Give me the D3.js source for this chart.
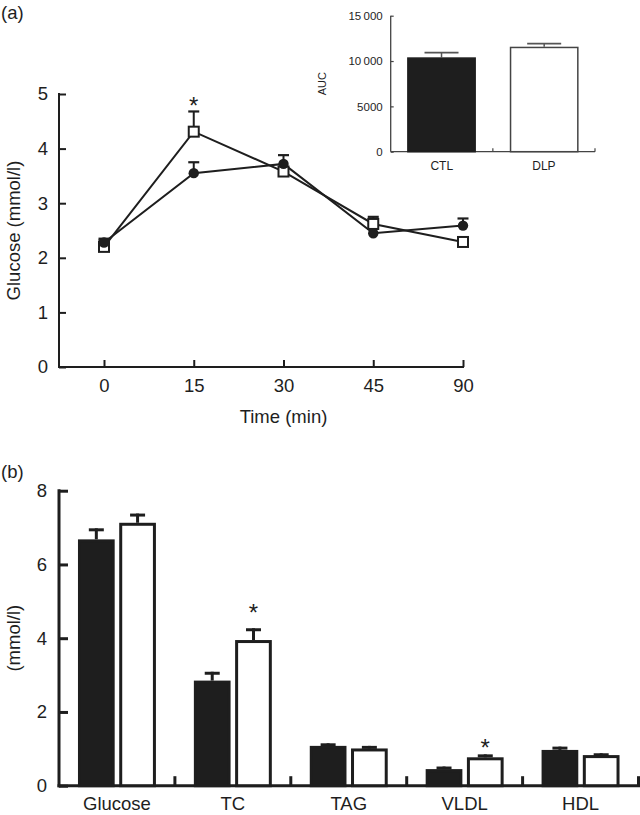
<!DOCTYPE html>
<html><head><meta charset="utf-8">
<script src="https://cdn.jsdelivr.net/npm/d3@7"></script>
<style>
html,body{margin:0;padding:0;background:#fff;}
svg text{font-family:"Liberation Sans",Arial,Helvetica,sans-serif;fill:#1e1e1e;}
</style></head>
<body>
<svg id="c" width="640" height="815"></svg>
<script>
// ---------- Data ----------
// Panel (a): glucose tolerance curve
const timeLabels = ["0", "15", "30", "45", "90"];
const ctlGlucose = [2.28, 3.55, 3.72, 2.45, 2.59];
const ctlGlucoseErr = [0.07, 0.20, 0.16, 0.08, 0.13];
const dlpGlucose = [2.20, 4.31, 3.58, 2.62, 2.29];
const dlpGlucoseErr = [0.12, 0.37, 0.07, 0.13, 0.04];
const glucoseTicks = [0, 1, 2, 3, 4, 5];
const glucoseStarTime = "15";
const glucoseStarValue = 4.89;

// Inset: AUC
const aucGroups = ["CTL", "DLP"];
const aucValues = [10410, 11580];
const aucErr = [510, 330];
const aucTicks = [0, 5000, 10000, 15000];
const aucTickLabels = ["0", "5000", "10\u2009000", "15\u2009000"];

// Panel (b): plasma parameters
const lipidCategories = ["Glucose", "TC", "TAG", "VLDL", "HDL"];
const ctlLipid = [6.68, 2.85, 1.08, 0.45, 0.97];
const ctlLipidErr = [0.30, 0.24, 0.07, 0.07, 0.09];
const dlpLipid = [7.13, 3.95, 1.01, 0.77, 0.83];
const dlpLipidErr = [0.25, 0.32, 0.07, 0.08, 0.05];
const lipidTicks = [0, 2, 4, 6, 8];
const lipidStarCats = ["TC", "VLDL"];
const lipidStarValues = [4.85, 1.19];

// ---------- Drawing ----------
const svg = d3.select("#c");
const ink = "#1e1e1e";
const starSize = 24, starOff = 14;

// Panel labels
svg.append("text").attr("x", 1).attr("y", 19).style("font-size", "18.5px").text("(a)");
svg.append("text").attr("x", 1).attr("y", 478).style("font-size", "18.5px").text("(b)");

// ===== Panel (a) =====
(function(){
  const axX = 59, y0 = 367, y5 = 94;
  const x = d3.scalePoint().domain(timeLabels).range([104, 463]);
  const y = d3.scaleLinear().domain([0, 5]).range([y0, y5]);
  const g = svg.append("g");
  const fs = "18.5px";

  const ya = g.append("g").attr("transform", `translate(${axX},0)`)
    .call(d3.axisLeft(y).tickValues(glucoseTicks).tickFormat(d3.format("d")).tickSize(-7).tickSizeOuter(0).tickPadding(11));
  ya.select(".domain").remove();
  ya.selectAll("line").attr("stroke", ink).attr("stroke-width", 2);
  ya.selectAll("text").style("font-size", fs);
  g.append("line").attr("x1", axX).attr("x2", axX).attr("y1", y5 - 1).attr("y2", y0 + 1)
    .attr("stroke", ink).attr("stroke-width", 2);

  const xa = g.append("g").attr("transform", `translate(0,${y0})`)
    .call(d3.axisBottom(x).tickSize(-7).tickSizeOuter(0).tickPadding(11.5));
  xa.select(".domain").remove();
  xa.selectAll("line").attr("stroke", ink).attr("stroke-width", 2);
  xa.selectAll("text").style("font-size", fs);
  g.append("line").attr("x1", axX - 1).attr("x2", x(timeLabels[timeLabels.length - 1]) + 1)
    .attr("y1", y0).attr("y2", y0).attr("stroke", ink).attr("stroke-width", 2);

  g.append("text").attr("transform", `translate(13,${(y0 + y5) / 2}) rotate(-90)`)
    .attr("text-anchor", "middle").attr("dominant-baseline", "central")
    .style("font-size", fs).text("Glucose (mmol/l)");
  g.append("text").attr("x", x(timeLabels[2])).attr("y", 423).attr("text-anchor", "middle")
    .style("font-size", fs).text("Time (min)");

  const ctl = timeLabels.map((t, i) => ({t, v: ctlGlucose[i], e: ctlGlucoseErr[i]}));
  const dlp = timeLabels.map((t, i) => ({t, v: dlpGlucose[i], e: dlpGlucoseErr[i]}));
  const line = d3.line().x(d => x(d.t)).y(d => y(d.v));

  [ctl, dlp].forEach(s => {
    g.append("path").datum(s).attr("d", line).attr("fill", "none")
      .attr("stroke", ink).attr("stroke-width", 2);
  });
  [ctl, dlp].forEach(s => {
    const eb = g.append("g");
    eb.selectAll(".v").data(s).join("line")
      .attr("x1", d => x(d.t)).attr("x2", d => x(d.t))
      .attr("y1", d => y(d.v)).attr("y2", d => y(d.v + d.e))
      .attr("stroke", ink).attr("stroke-width", 2);
    eb.selectAll(".c").data(s).join("line")
      .attr("x1", d => x(d.t) - 5.5).attr("x2", d => x(d.t) + 5.5)
      .attr("y1", d => y(d.v + d.e)).attr("y2", d => y(d.v + d.e))
      .attr("stroke", ink).attr("stroke-width", 2.2);
  });
  g.selectAll(".sq").data(dlp).join("rect")
    .attr("x", d => x(d.t) - 5).attr("y", d => y(d.v) - 5)
    .attr("width", 10).attr("height", 10)
    .attr("fill", "#fff").attr("stroke", ink).attr("stroke-width", 2);
  g.selectAll(".ci").data(ctl).join("circle")
    .attr("cx", d => x(d.t)).attr("cy", d => y(d.v)).attr("r", 5.2)
    .attr("fill", ink);

  g.append("text").attr("x", x(glucoseStarTime)).attr("y", y(glucoseStarValue) + starOff)
    .attr("text-anchor", "middle").style("font-size", starSize + "px").text("*");
})();

// ===== Inset AUC =====
(function(){
  const axX = 390.7, yb = 151.7, yt = 15.7, xr = 595;
  const x = d3.scaleBand().domain(aucGroups).range([axX, xr]).paddingInner(0.33).paddingOuter(0.16);
  const xs = d3.scaleBand().domain(aucGroups).range([axX, xr]);
  const y = d3.scaleLinear().domain([0, 15000]).range([yb, yt]);
  const g = svg.append("g");
  const col = "#444";
  const fs = "11.5px";

  const ya = g.append("g").attr("transform", `translate(${axX},0)`)
    .call(d3.axisLeft(y).tickValues(aucTicks).tickFormat((d, i) => aucTickLabels[i]).tickSize(-3).tickSizeOuter(0).tickPadding(8));
  ya.select(".domain").remove();
  ya.selectAll("line").attr("stroke", col).attr("stroke-width", 1.2);
  ya.selectAll("text").style("font-size", fs);
  g.append("line").attr("x1", axX).attr("x2", axX).attr("y1", yt).attr("y2", yb)
    .attr("stroke", col).attr("stroke-width", 1.3);
  g.append("line").attr("x1", axX).attr("x2", xr).attr("y1", yb).attr("y2", yb)
    .attr("stroke", col).attr("stroke-width", 1.3);
  g.selectAll(".sep").data(aucGroups).join("line")
    .attr("x1", d => xs(d) + xs.bandwidth()).attr("x2", d => xs(d) + xs.bandwidth())
    .attr("y1", yb).attr("y2", yb - 3.5).attr("stroke", col).attr("stroke-width", 1.2);

  g.selectAll(".lab").data(aucGroups).join("text")
    .attr("x", d => xs(d) + xs.bandwidth() / 2).attr("y", 169.5)
    .attr("text-anchor", "middle").style("font-size", "12px").text(d => d);
  g.append("text").attr("transform", `translate(322,${(yt + yb) / 2}) rotate(-90)`)
    .attr("text-anchor", "middle").attr("dominant-baseline", "central")
    .style("font-size", "11px").text("AUC");

  const data = aucGroups.map((k, i) => ({k, v: aucValues[i], e: aucErr[i], i}));
  g.selectAll(".ev").data(data).join("line")
    .attr("x1", d => x(d.k) + x.bandwidth() / 2).attr("x2", d => x(d.k) + x.bandwidth() / 2)
    .attr("y1", d => y(d.v)).attr("y2", d => y(d.v + d.e)).attr("stroke", "#555").attr("stroke-width", 1.5);
  g.selectAll(".ec").data(data).join("line")
    .attr("x1", d => x(d.k) + x.bandwidth() / 2 - 17).attr("x2", d => x(d.k) + x.bandwidth() / 2 + 17)
    .attr("y1", d => y(d.v + d.e)).attr("y2", d => y(d.v + d.e)).attr("stroke", "#555").attr("stroke-width", 1.8);
  g.selectAll(".bar").data(data).join("rect")
    .attr("x", d => x(d.k) + 0.75).attr("y", d => y(d.v) + 0.75)
    .attr("width", x.bandwidth() - 1.5).attr("height", d => yb - y(d.v) - 0.75)
    .attr("fill", d => d.i === 0 ? "#1e1e1e" : "#fff")
    .attr("stroke", d => d.i === 0 ? "#1e1e1e" : col).attr("stroke-width", 1.5);
})();

// ===== Panel (b) =====
(function(){
  const axX = 59, yb = 785.7, yt = 490.7, xr = 638.5;
  const x = d3.scaleBand().domain(lipidCategories).range([axX, xr]);
  const sub = d3.scaleBand().domain(["CTL", "DLP"]).range([0, x.bandwidth()]).paddingInner(0.11).paddingOuter(0.46);
  const y = d3.scaleLinear().domain([0, 8]).range([yb, yt]);
  const g = svg.append("g");
  const fs = "18.5px";
  const sw = 3;

  const ya = g.append("g").attr("transform", `translate(${axX},0)`)
    .call(d3.axisLeft(y).tickValues(lipidTicks).tickFormat(d3.format("d")).tickSize(-9).tickSizeOuter(0).tickPadding(12));
  ya.select(".domain").remove();
  ya.selectAll("line").attr("stroke", ink).attr("stroke-width", sw);
  ya.selectAll("text").style("font-size", fs);
  g.append("line").attr("x1", axX).attr("x2", axX).attr("y1", yt - 1.5).attr("y2", yb + 1.5)
    .attr("stroke", ink).attr("stroke-width", sw);

  const xa = g.append("g").attr("transform", `translate(0,${yb})`)
    .call(d3.axisBottom(x).tickSize(0).tickPadding(11.5));
  xa.select(".domain").remove();
  xa.selectAll("text").style("font-size", fs);
  g.append("line").attr("x1", axX - 1.5).attr("x2", xr + 1.5).attr("y1", yb).attr("y2", yb)
    .attr("stroke", ink).attr("stroke-width", sw);
  g.selectAll(".sep").data(lipidCategories).join("line")
    .attr("x1", d => x(d) + x.bandwidth()).attr("x2", d => x(d) + x.bandwidth())
    .attr("y1", yb).attr("y2", yb - 9.5).attr("stroke", ink).attr("stroke-width", sw);

  g.append("text").attr("transform", `translate(13,${(yt + yb) / 2}) rotate(-90)`)
    .attr("text-anchor", "middle").attr("dominant-baseline", "central")
    .style("font-size", fs).text("(mmol/l)");

  const data = [];
  lipidCategories.forEach((c, i) => {
    data.push({c, grp: "CTL", v: ctlLipid[i], e: ctlLipidErr[i]});
    data.push({c, grp: "DLP", v: dlpLipid[i], e: dlpLipidErr[i]});
  });
  const cx = d => x(d.c) + sub(d.grp) + sub.bandwidth() / 2;

  g.selectAll(".ev").data(data).join("line")
    .attr("x1", cx).attr("x2", cx)
    .attr("y1", d => y(d.v)).attr("y2", d => y(d.v + d.e)).attr("stroke", ink).attr("stroke-width", sw);
  g.selectAll(".ec").data(data).join("line")
    .attr("x1", d => cx(d) - 7.5).attr("x2", d => cx(d) + 7.5)
    .attr("y1", d => y(d.v + d.e) + 1.5).attr("y2", d => y(d.v + d.e) + 1.5)
    .attr("stroke", ink).attr("stroke-width", sw);
  g.selectAll(".bar").data(data).join("rect")
    .attr("x", d => x(d.c) + sub(d.grp) + sw / 2).attr("y", d => y(d.v) + sw / 2)
    .attr("width", sub.bandwidth() - sw).attr("height", d => yb - y(d.v) - sw / 2)
    .attr("fill", d => d.grp === "CTL" ? ink : "#fff")
    .attr("stroke", ink).attr("stroke-width", sw);

  const stars = lipidStarCats.map((c, i) => ({c, value: lipidStarValues[i]}));
  g.selectAll(".star").data(stars).join("text")
    .attr("x", d => x(d.c) + sub("DLP") + sub.bandwidth() / 2)
    .attr("y", d => y(d.value) + starOff)
    .attr("text-anchor", "middle").style("font-size", starSize + "px").text("*");
})();
</script>
</body></html>
